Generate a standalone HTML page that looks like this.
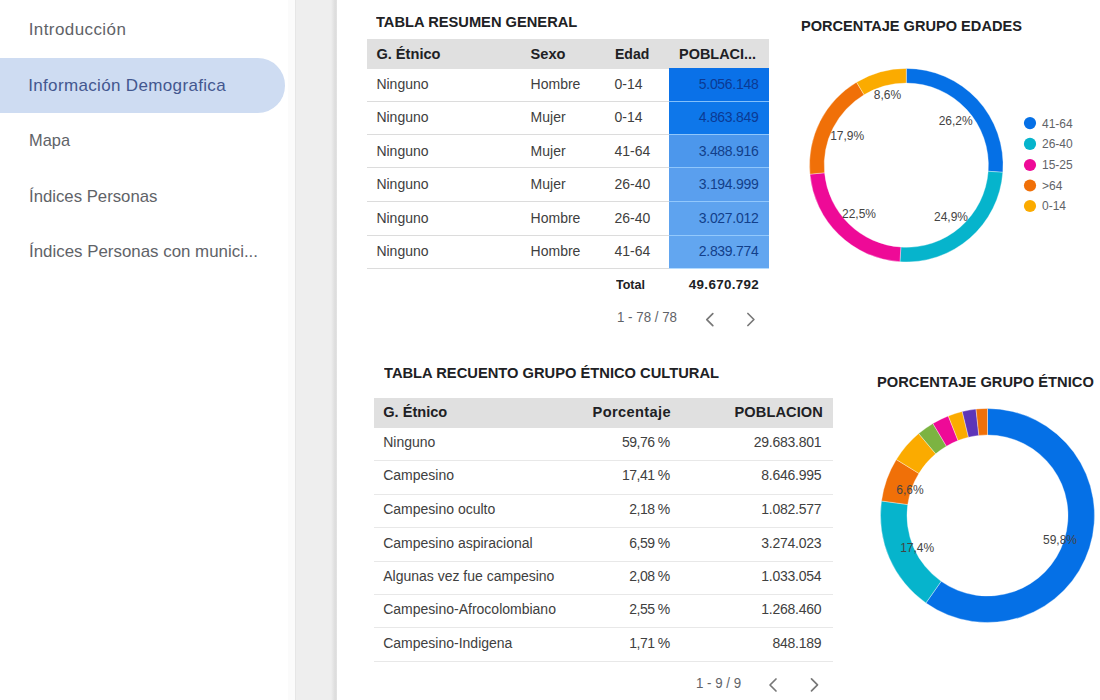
<!DOCTYPE html><html><head><meta charset="utf-8"><style>
*{margin:0;padding:0;box-sizing:border-box}
html,body{width:1100px;height:700px;overflow:hidden;background:#fff;font-family:"Liberation Sans", sans-serif}
.t{position:absolute;white-space:nowrap;}
.a{position:absolute}
</style></head><body><div class="a" style="left:0;top:58px;width:285px;height:54.5px;background:#cedcf2;border-radius:0 27.25px 27.25px 0"></div><div class="a" style="left:288px;top:0;width:7px;height:700px;background:#fbfbfb"></div><div class="a" style="left:294.6px;top:0;width:1px;height:700px;background:#e6e6e6"></div><div class="a" style="left:295.6px;top:0;width:41.4px;height:700px;background:#eeeeee"></div><div class="a" style="left:331px;top:0;width:6px;height:700px;background:linear-gradient(to right,#eeeeee,#dcdcdc 70%,#e4e4e4)"></div><div class="a" style="left:367px;top:39px;width:402px;height:30px;background:#e0e0e0"></div><div class="a" style="left:668.7px;top:68.4px;width:100.4px;height:32.8px;background:#0a71e8"></div><div class="a" style="left:668.7px;top:101.2px;width:100.4px;height:33.1px;background:#0e77ea"></div><div class="a" style="left:668.7px;top:134.3px;width:100.4px;height:33.4px;background:#4c97ec"></div><div class="a" style="left:668.7px;top:167.7px;width:100.4px;height:33.9px;background:#5a9fee"></div><div class="a" style="left:668.7px;top:201.6px;width:100.4px;height:34.0px;background:#5ea3ef"></div><div class="a" style="left:668.7px;top:235.6px;width:100.4px;height:32.8px;background:#62a6f0"></div><div class="a" style="left:367.3px;top:100.7px;width:301.4px;height:1px;background:#dcdcdc"></div><div class="a" style="left:668.7px;top:100.7px;width:100.4px;height:1px;background:rgba(160,210,255,0.8)"></div><div class="a" style="left:367.3px;top:133.8px;width:301.4px;height:1px;background:#dcdcdc"></div><div class="a" style="left:668.7px;top:133.8px;width:100.4px;height:1px;background:rgba(160,210,255,0.8)"></div><div class="a" style="left:367.3px;top:167.2px;width:301.4px;height:1px;background:#dcdcdc"></div><div class="a" style="left:668.7px;top:167.2px;width:100.4px;height:1px;background:rgba(160,210,255,0.8)"></div><div class="a" style="left:367.3px;top:201.1px;width:301.4px;height:1px;background:#dcdcdc"></div><div class="a" style="left:668.7px;top:201.1px;width:100.4px;height:1px;background:rgba(160,210,255,0.8)"></div><div class="a" style="left:367.3px;top:235.1px;width:301.4px;height:1px;background:#dcdcdc"></div><div class="a" style="left:668.7px;top:235.1px;width:100.4px;height:1px;background:rgba(160,210,255,0.8)"></div><div class="a" style="left:367.3px;top:267.9px;width:301.4px;height:1px;background:#dcdcdc"></div><div class="a" style="left:668.7px;top:267.9px;width:100.4px;height:1px;background:rgba(160,210,255,0.8)"></div><div class="a" style="left:374px;top:398px;width:459px;height:29.5px;background:#e0e0e0"></div><div class="a" style="left:374px;top:460.4px;width:459px;height:1px;background:#e8e8e8"></div><div class="a" style="left:374px;top:493.6px;width:459px;height:1px;background:#e8e8e8"></div><div class="a" style="left:374px;top:526.9px;width:459px;height:1px;background:#e8e8e8"></div><div class="a" style="left:374px;top:560.5px;width:459px;height:1px;background:#e8e8e8"></div><div class="a" style="left:374px;top:594.1px;width:459px;height:1px;background:#e8e8e8"></div><div class="a" style="left:374px;top:627.3px;width:459px;height:1px;background:#e8e8e8"></div><div class="a" style="left:374px;top:660.5px;width:459px;height:1px;background:#e8e8e8"></div><svg class="a" style="left:0;top:0" width="1100" height="700" viewBox="0 0 1100 700"><path d="M712.80,313.60 L706.80,319.60 L712.80,325.60" fill="none" stroke="#787878" stroke-width="1.7" stroke-linecap="round" stroke-linejoin="round"/><path d="M747.90,313.50 L753.90,319.50 L747.90,325.50" fill="none" stroke="#787878" stroke-width="1.7" stroke-linecap="round" stroke-linejoin="round"/><path d="M776.00,679.00 L770.00,685.00 L776.00,691.00" fill="none" stroke="#787878" stroke-width="1.7" stroke-linecap="round" stroke-linejoin="round"/><path d="M811.50,678.80 L817.50,684.80 L811.50,690.80" fill="none" stroke="#787878" stroke-width="1.7" stroke-linecap="round" stroke-linejoin="round"/><path d="M906.30,68.40 A96.8,96.8 0 0 1 1002.84,172.33 L988.18,171.25 A82.1,82.1 0 0 0 906.30,83.10 Z" fill="#0570e6" stroke="#ffffff" stroke-width="0.6" stroke-opacity="0.6"/><path d="M1002.84,172.33 A96.8,96.8 0 0 1 899.92,261.79 L900.89,247.12 A82.1,82.1 0 0 0 988.18,171.25 Z" fill="#06b4cc" stroke="#ffffff" stroke-width="0.6" stroke-opacity="0.6"/><path d="M899.92,261.79 A96.8,96.8 0 0 1 809.91,174.15 L824.55,172.79 A82.1,82.1 0 0 0 900.89,247.12 Z" fill="#ee0a97" stroke="#ffffff" stroke-width="0.6" stroke-opacity="0.6"/><path d="M809.91,174.15 A96.8,96.8 0 0 1 856.55,82.16 L864.10,94.77 A82.1,82.1 0 0 0 824.55,172.79 Z" fill="#f07008" stroke="#ffffff" stroke-width="0.6" stroke-opacity="0.6"/><path d="M856.55,82.16 A96.8,96.8 0 0 1 906.30,68.40 L906.30,83.10 A82.1,82.1 0 0 0 864.10,94.77 Z" fill="#fbab00" stroke="#ffffff" stroke-width="0.6" stroke-opacity="0.6"/><path d="M987.50,408.50 A107,107 0 1 1 925.92,603.00 L941.17,581.33 A80.5,80.5 0 1 0 987.50,435.00 Z" fill="#0570e6" stroke="#ffffff" stroke-width="0.6" stroke-opacity="0.6"/><path d="M925.92,603.00 A107,107 0 0 1 881.49,500.96 L907.75,504.56 A80.5,80.5 0 0 0 941.17,581.33 Z" fill="#06b4cc" stroke="#ffffff" stroke-width="0.6" stroke-opacity="0.6"/><path d="M881.49,500.96 A107,107 0 0 1 896.30,459.54 L918.89,473.40 A80.5,80.5 0 0 0 907.75,504.56 Z" fill="#f07008" stroke="#ffffff" stroke-width="0.6" stroke-opacity="0.6"/><path d="M896.30,459.54 A107,107 0 0 1 918.68,433.57 L935.72,453.86 A80.5,80.5 0 0 0 918.89,473.40 Z" fill="#fbab00" stroke="#ffffff" stroke-width="0.6" stroke-opacity="0.6"/><path d="M918.68,433.57 A107,107 0 0 1 932.92,423.47 L946.44,446.26 A80.5,80.5 0 0 0 935.72,453.86 Z" fill="#7cb342" stroke="#ffffff" stroke-width="0.6" stroke-opacity="0.6"/><path d="M932.92,423.47 A107,107 0 0 1 948.30,415.94 L958.01,440.60 A80.5,80.5 0 0 0 946.44,446.26 Z" fill="#ee0a97" stroke="#ffffff" stroke-width="0.6" stroke-opacity="0.6"/><path d="M948.30,415.94 A107,107 0 0 1 962.26,411.52 L968.51,437.27 A80.5,80.5 0 0 0 958.01,440.60 Z" fill="#fbab00" stroke="#ffffff" stroke-width="0.6" stroke-opacity="0.6"/><path d="M962.26,411.52 A107,107 0 0 1 976.03,409.12 L978.87,435.46 A80.5,80.5 0 0 0 968.51,437.27 Z" fill="#5e35b8" stroke="#ffffff" stroke-width="0.6" stroke-opacity="0.6"/><path d="M976.03,409.12 A107,107 0 0 1 987.50,408.50 L987.50,435.00 A80.5,80.5 0 0 0 978.87,435.46 Z" fill="#f07008" stroke="#ffffff" stroke-width="0.6" stroke-opacity="0.6"/><circle cx="1030" cy="123.1" r="6.1" fill="#0570e6"/><circle cx="1030" cy="143.9" r="6.1" fill="#06b4cc"/><circle cx="1030" cy="165.0" r="6.1" fill="#ee0a97"/><circle cx="1030" cy="185.5" r="6.1" fill="#f07008"/><circle cx="1030" cy="206.0" r="6.1" fill="#fbab00"/></svg><div class="t" style="top:21.00px;font-size:17px;line-height:17px;font-weight:400;color:#5f6368;letter-spacing:0.416px;left:28.70px;">Introducción</div><div class="t" style="top:77.00px;font-size:17px;line-height:17px;font-weight:400;color:#43578f;letter-spacing:0.344px;left:28.20px;">Información Demografica</div><div class="t" style="top:132.00px;font-size:17px;line-height:17px;font-weight:400;color:#5f6368;transform:scaleX(0.9640);transform-origin:left center;left:28.70px;">Mapa</div><div class="t" style="top:188.00px;font-size:17px;line-height:17px;font-weight:400;color:#5f6368;transform:scaleX(0.9846);transform-origin:left center;left:28.70px;">Índices Personas</div><div class="t" style="top:243.00px;font-size:17px;line-height:17px;font-weight:400;color:#5f6368;transform:scaleX(0.9932);transform-origin:left center;left:28.70px;">Índices Personas con munici...</div><div class="t" style="top:14.00px;font-size:15.3px;line-height:15.3px;font-weight:700;color:#202124;transform:scaleX(0.9590);transform-origin:left center;left:376.40px;">TABLA RESUMEN GENERAL</div><div class="t" style="top:47.00px;font-size:14.6px;line-height:14.6px;font-weight:700;color:#202124;letter-spacing:0.005px;left:376.40px;">G. Étnico</div><div class="t" style="top:47.00px;font-size:14.6px;line-height:14.6px;font-weight:700;color:#202124;letter-spacing:0.003px;left:530.60px;">Sexo</div><div class="t" style="top:47.00px;font-size:14.6px;line-height:14.6px;font-weight:700;color:#202124;transform:scaleX(0.9611);transform-origin:left center;left:615.00px;">Edad</div><div class="t" style="top:47.00px;font-size:14.6px;line-height:14.6px;font-weight:700;color:#202124;transform:scaleX(0.9904);transform-origin:left center;left:678.60px;">POBLACI...</div><div class="t" style="top:77.00px;font-size:14px;line-height:14px;font-weight:400;color:#404040;left:376.40px;">Ninguno</div><div class="t" style="top:77.00px;font-size:14px;line-height:14px;font-weight:400;color:#404040;left:530.60px;">Hombre</div><div class="t" style="top:77.00px;font-size:14px;line-height:14px;font-weight:400;color:#404040;left:614.50px;">0-14</div><div class="t" style="top:77.00px;font-size:14px;line-height:14px;font-weight:400;color:#0b3a94;letter-spacing:-0.300px;right:341.60px;">5.056.148</div><div class="t" style="top:110.00px;font-size:14px;line-height:14px;font-weight:400;color:#404040;left:376.40px;">Ninguno</div><div class="t" style="top:110.00px;font-size:14px;line-height:14px;font-weight:400;color:#404040;left:530.60px;">Mujer</div><div class="t" style="top:110.00px;font-size:14px;line-height:14px;font-weight:400;color:#404040;left:614.50px;">0-14</div><div class="t" style="top:110.00px;font-size:14px;line-height:14px;font-weight:400;color:#0b3a94;letter-spacing:-0.300px;right:341.60px;">4.863.849</div><div class="t" style="top:144.00px;font-size:14px;line-height:14px;font-weight:400;color:#404040;left:376.40px;">Ninguno</div><div class="t" style="top:144.00px;font-size:14px;line-height:14px;font-weight:400;color:#404040;left:530.60px;">Mujer</div><div class="t" style="top:144.00px;font-size:14px;line-height:14px;font-weight:400;color:#404040;left:614.50px;">41-64</div><div class="t" style="top:144.00px;font-size:14px;line-height:14px;font-weight:400;color:#123f8a;letter-spacing:-0.300px;right:341.60px;">3.488.916</div><div class="t" style="top:177.00px;font-size:14px;line-height:14px;font-weight:400;color:#404040;left:376.40px;">Ninguno</div><div class="t" style="top:177.00px;font-size:14px;line-height:14px;font-weight:400;color:#404040;left:530.60px;">Mujer</div><div class="t" style="top:177.00px;font-size:14px;line-height:14px;font-weight:400;color:#404040;left:614.50px;">26-40</div><div class="t" style="top:177.00px;font-size:14px;line-height:14px;font-weight:400;color:#123f8a;letter-spacing:-0.300px;right:341.60px;">3.194.999</div><div class="t" style="top:211.00px;font-size:14px;line-height:14px;font-weight:400;color:#404040;left:376.40px;">Ninguno</div><div class="t" style="top:211.00px;font-size:14px;line-height:14px;font-weight:400;color:#404040;left:530.60px;">Hombre</div><div class="t" style="top:211.00px;font-size:14px;line-height:14px;font-weight:400;color:#404040;left:614.50px;">26-40</div><div class="t" style="top:211.00px;font-size:14px;line-height:14px;font-weight:400;color:#123f8a;letter-spacing:-0.300px;right:341.60px;">3.027.012</div><div class="t" style="top:244.00px;font-size:14px;line-height:14px;font-weight:400;color:#404040;left:376.40px;">Ninguno</div><div class="t" style="top:244.00px;font-size:14px;line-height:14px;font-weight:400;color:#404040;left:530.60px;">Hombre</div><div class="t" style="top:244.00px;font-size:14px;line-height:14px;font-weight:400;color:#404040;left:614.50px;">41-64</div><div class="t" style="top:244.00px;font-size:14px;line-height:14px;font-weight:400;color:#123f8a;letter-spacing:-0.300px;right:341.60px;">2.839.774</div><div class="t" style="top:278.00px;font-size:13.4px;line-height:13.4px;font-weight:700;color:#202124;transform:scaleX(0.9355);transform-origin:left center;left:615.50px;">Total</div><div class="t" style="top:278.00px;font-size:13.4px;line-height:13.4px;font-weight:700;color:#202124;letter-spacing:0.330px;right:340.87px;">49.670.792</div><div class="t" style="top:310.00px;font-size:14px;line-height:14px;font-weight:400;color:#5f6368;transform:scaleX(0.9517);transform-origin:left center;left:617.20px;">1 - 78 / 78</div><div class="t" style="top:365.00px;font-size:15.3px;line-height:15.3px;font-weight:700;color:#202124;transform:scaleX(0.9607);transform-origin:left center;left:383.60px;">TABLA RECUENTO GRUPO ÉTNICO CULTURAL</div><div class="t" style="top:405.00px;font-size:14.6px;line-height:14.6px;font-weight:700;color:#202124;letter-spacing:0.005px;left:383.20px;">G. Étnico</div><div class="t" style="top:405.00px;font-size:14.6px;line-height:14.6px;font-weight:700;color:#202124;letter-spacing:0.375px;right:429.02px;">Porcentaje</div><div class="t" style="top:405.00px;font-size:14.6px;line-height:14.6px;font-weight:700;color:#202124;letter-spacing:0.092px;right:277.11px;">POBLACION</div><div class="t" style="top:435.00px;font-size:14px;line-height:14px;font-weight:400;color:#404040;left:383.20px;">Ninguno</div><div class="t" style="top:435.00px;font-size:14px;line-height:14px;font-weight:400;color:#404040;letter-spacing:-0.500px;right:430.20px;">59,76 %</div><div class="t" style="top:435.00px;font-size:14px;line-height:14px;font-weight:400;color:#404040;letter-spacing:-0.250px;right:278.75px;">29.683.801</div><div class="t" style="top:468.00px;font-size:14px;line-height:14px;font-weight:400;color:#404040;left:383.20px;">Campesino</div><div class="t" style="top:468.00px;font-size:14px;line-height:14px;font-weight:400;color:#404040;letter-spacing:-0.500px;right:430.20px;">17,41 %</div><div class="t" style="top:468.00px;font-size:14px;line-height:14px;font-weight:400;color:#404040;letter-spacing:-0.250px;right:278.75px;">8.646.995</div><div class="t" style="top:502.00px;font-size:14px;line-height:14px;font-weight:400;color:#404040;left:383.20px;">Campesino oculto</div><div class="t" style="top:502.00px;font-size:14px;line-height:14px;font-weight:400;color:#404040;letter-spacing:-0.500px;right:430.20px;">2,18 %</div><div class="t" style="top:502.00px;font-size:14px;line-height:14px;font-weight:400;color:#404040;letter-spacing:-0.250px;right:278.75px;">1.082.577</div><div class="t" style="top:536.00px;font-size:14px;line-height:14px;font-weight:400;color:#404040;left:383.20px;">Campesino aspiracional</div><div class="t" style="top:536.00px;font-size:14px;line-height:14px;font-weight:400;color:#404040;letter-spacing:-0.500px;right:430.20px;">6,59 %</div><div class="t" style="top:536.00px;font-size:14px;line-height:14px;font-weight:400;color:#404040;letter-spacing:-0.250px;right:278.75px;">3.274.023</div><div class="t" style="top:569.00px;font-size:14px;line-height:14px;font-weight:400;color:#404040;left:383.20px;">Algunas vez fue campesino</div><div class="t" style="top:569.00px;font-size:14px;line-height:14px;font-weight:400;color:#404040;letter-spacing:-0.500px;right:430.20px;">2,08 %</div><div class="t" style="top:569.00px;font-size:14px;line-height:14px;font-weight:400;color:#404040;letter-spacing:-0.250px;right:278.75px;">1.033.054</div><div class="t" style="top:602.00px;font-size:14px;line-height:14px;font-weight:400;color:#404040;left:383.20px;">Campesino-Afrocolombiano</div><div class="t" style="top:602.00px;font-size:14px;line-height:14px;font-weight:400;color:#404040;letter-spacing:-0.500px;right:430.20px;">2,55 %</div><div class="t" style="top:602.00px;font-size:14px;line-height:14px;font-weight:400;color:#404040;letter-spacing:-0.250px;right:278.75px;">1.268.460</div><div class="t" style="top:636.00px;font-size:14px;line-height:14px;font-weight:400;color:#404040;left:383.20px;">Campesino-Indigena</div><div class="t" style="top:636.00px;font-size:14px;line-height:14px;font-weight:400;color:#404040;letter-spacing:-0.500px;right:430.20px;">1,71 %</div><div class="t" style="top:636.00px;font-size:14px;line-height:14px;font-weight:400;color:#404040;letter-spacing:-0.250px;right:278.75px;">848.189</div><div class="t" style="top:676.00px;font-size:14px;line-height:14px;font-weight:400;color:#5f6368;transform:scaleX(0.9501);transform-origin:left center;left:696.00px;">1 - 9 / 9</div><div class="t" style="top:18.00px;font-size:15.3px;line-height:15.3px;font-weight:700;color:#202124;transform:scaleX(0.9531);transform-origin:left center;left:800.90px;">PORCENTAJE GRUPO EDADES</div><div class="t" style="top:374.00px;font-size:15.3px;line-height:15.3px;font-weight:700;color:#202124;transform:scaleX(0.9602);transform-origin:left center;left:877.20px;">PORCENTAJE GRUPO ÉTNICO</div><div class="t" style="top:118.00px;font-size:12px;line-height:12px;font-weight:400;color:#5f6368;left:1042.00px;">41-64</div><div class="t" style="top:138.00px;font-size:12px;line-height:12px;font-weight:400;color:#5f6368;left:1042.00px;">26-40</div><div class="t" style="top:159.00px;font-size:12px;line-height:12px;font-weight:400;color:#5f6368;left:1042.00px;">15-25</div><div class="t" style="top:180.00px;font-size:12px;line-height:12px;font-weight:400;color:#5f6368;left:1042.00px;">&gt;64</div><div class="t" style="top:200.00px;font-size:12px;line-height:12px;font-weight:400;color:#5f6368;left:1042.00px;">0-14</div><div class="t" style="top:115.00px;font-size:12px;line-height:12px;font-weight:400;color:#444;left:805.70px;width:300px;text-align:center;">26,2%</div><div class="t" style="top:211.00px;font-size:12px;line-height:12px;font-weight:400;color:#444;left:801.00px;width:300px;text-align:center;">24,9%</div><div class="t" style="top:208.00px;font-size:12px;line-height:12px;font-weight:400;color:#444;left:709.00px;width:300px;text-align:center;">22,5%</div><div class="t" style="top:130.00px;font-size:12px;line-height:12px;font-weight:400;color:#444;left:697.20px;width:300px;text-align:center;">17,9%</div><div class="t" style="top:89.00px;font-size:12px;line-height:12px;font-weight:400;color:#444;left:737.40px;width:300px;text-align:center;">8,6%</div><div class="t" style="top:484.00px;font-size:12px;line-height:12px;font-weight:400;color:#444;left:760.00px;width:300px;text-align:center;">6,6%</div><div class="t" style="top:542.00px;font-size:12px;line-height:12px;font-weight:400;color:#444;left:767.20px;width:300px;text-align:center;">17,4%</div><div class="t" style="top:534.00px;font-size:12px;line-height:12px;font-weight:400;color:#444;left:910.00px;width:300px;text-align:center;">59,8%</div></body></html>
